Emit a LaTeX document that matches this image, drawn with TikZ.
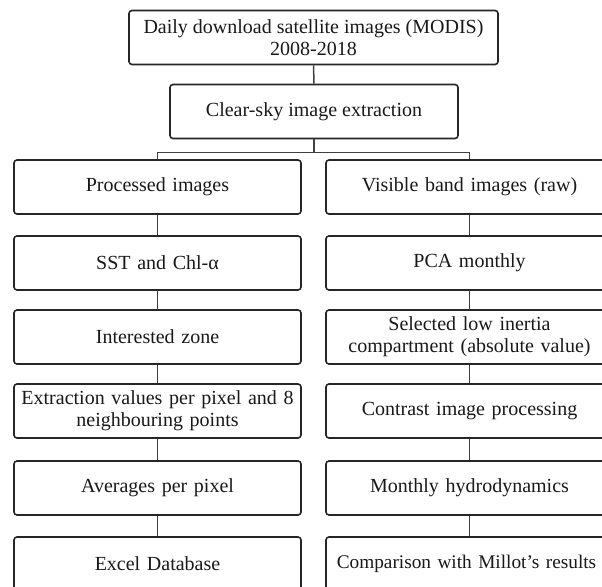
\documentclass[tikz,border=0pt]{standalone}
\usepackage{fontspec}
\setmainfont{Liberation Serif}
\begin{document}
\begin{tikzpicture}[x=1pt,y=1pt,
  procbox/.style={draw=black!85, line width=1.6pt, rounded corners=3pt, fill=white,
    minimum height=54pt, inner sep=2pt, align=center, text=black!90,
    font=\fontsize{20}{22}\selectfont},
  colbox/.style={procbox, minimum width=287pt, text width=283pt},
  link/.style={draw=black!75, line width=1.5pt}]
\useasboundingbox (0,0) rectangle (602,-586);
\clip (0,0) rectangle (602,-586);
\fill[white] (0,0) rectangle (602,-586);
% top nodes
\node[procbox, minimum width=369pt] (top) at (313.5,-37.5) {Daily download satellite images (MODIS)\\2008-2018};
\node[procbox, minimum width=288pt] (clear) at (314,-111.5) {Clear-sky image extraction};
% left column
\node[colbox] (L1) at (157.5,-187) {Processed images};
\node[colbox] (L2) at (157.5,-263) {SST and Chl-α};
\node[colbox] (L3) at (157.5,-337) {Interested zone};
\node[colbox] (L4) at (157.5,-411) {Extraction values per pixel and 8\\neighbouring points};
\node[colbox] (L5) at (157.5,-488) {Averages per pixel};
\node[colbox] (L6) at (157.5,-564) {Excel Database};
% right column
\node[colbox] (R1) at (469.5,-187) {Visible band images (raw)};
\node[colbox] (R2) at (469.5,-263) {PCA monthly};
\node[colbox] (R3) at (469.5,-337) {Selected low inertia\\compartment (absolute value)};
\node[colbox] (R4) at (469.5,-411) {Contrast image processing};
\node[colbox] (R5) at (469.5,-488) {Monthly hydrodynamics};
\node[colbox, font=\fontsize{19.3}{22}\selectfont] (R6) at (469.5,-564) {\hspace*{-6pt}Comparison with Millot's results};
% connectors
\draw[link] (top.south) -- (clear.north);
\draw[link] (clear.south) -- ++(0,-13) coordinate (br);
\draw[link] (L1.north) |- (br) -| (R1.north);
\foreach \a/\b in {L1/L2,L2/L3,L3/L4,L4/L5,L5/L6,R1/R2,R2/R3,R3/R4,R4/R5,R5/R6}
  \draw[link] (\a.south) -- (\b.north);
\end{tikzpicture}
\end{document}
